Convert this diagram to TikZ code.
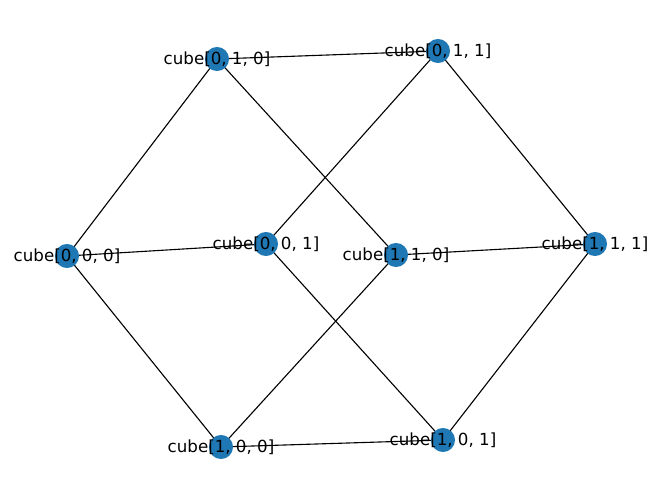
\documentclass[tikz,border=0pt]{standalone}
\usepackage{fontspec}
\setmainfont{DejaVu Sans}
\definecolor{nodeblue}{HTML}{1F77B4}
\begin{document}
\begin{tikzpicture}[x=0.72pt,y=-0.72pt,
  vert/.style={circle,fill=nodeblue,minimum size=17.3pt,inner sep=0pt},
  lbl/.style={font=\fontsize{12pt}{14pt}\selectfont,inner sep=0pt,text=black},
  edge/.style={draw=black,line width=0.8pt}]
\useasboundingbox (0,0) rectangle (660,499);
\coordinate (a010) at (217,59);
\coordinate (a011) at (438,51);
\coordinate (a000) at (67,256);
\coordinate (a001) at (266,244);
\coordinate (a110) at (396,255);
\coordinate (a111) at (595,244);
\coordinate (a100) at (221,447);
\coordinate (a101) at (443,440);
\foreach \u/\v in {000/001,000/010,000/100,001/011,001/101,010/011,010/110,011/111,100/101,100/110,101/111,110/111}
  \draw[edge] (a\u) -- (a\v);
\foreach \n in {000,001,010,011,100,101,110,111}
  \node[vert] (n\n) at (a\n) {};
\node[lbl] (t000) at (a000) {cube[0, 0, 0]};
\node[lbl] (t001) at (a001) {cube[0, 0, 1]};
\node[lbl] (t010) at (a010) {cube[0, 1, 0]};
\node[lbl] (t011) at (a011) {cube[0, 1, 1]};
\node[lbl] (t100) at (a100) {cube[1, 0, 0]};
\node[lbl] (t101) at (a101) {cube[1, 0, 1]};
\node[lbl] (t110) at (a110) {cube[1, 1, 0]};
\node[lbl] (t111) at (a111) {cube[1, 1, 1]};
\end{tikzpicture}
\end{document}
